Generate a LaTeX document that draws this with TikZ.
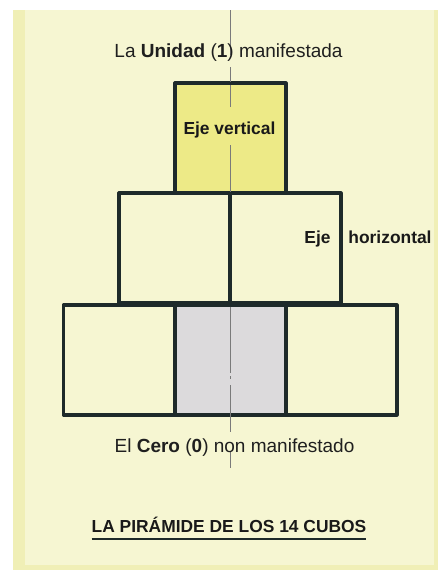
\documentclass[tikz,border=0pt]{standalone}
\usepackage{fontspec}
\setmainfont{Liberation Sans}
\definecolor{panel}{HTML}{F6F6D2}
\definecolor{franja}{HTML}{F0EFB6}
\definecolor{amarillo}{HTML}{EDEA87}
\definecolor{gris}{HTML}{DCDADC}
\definecolor{borde}{HTML}{1E2A2A}
\definecolor{ejegris}{HTML}{7A7A7A}
\tikzset{
  cubo/.style={draw=borde, line width=3.2pt, line join=round,
               minimum width=111pt, minimum height=110pt, inner sep=0pt},
  rotulo/.style={font=\fontsize{19}{22}\selectfont, text=black!88,
                 inner sep=0pt, anchor=base},
  etiqueta/.style={font=\fontsize{17.4}{20}\selectfont\bfseries, text=black!90,
                   inner sep=0pt, anchor=base},
  ejeline/.style={draw=ejegris, line width=1pt},
}

\begin{document}
\begin{tikzpicture}[x=1pt, y=-1pt]
  \useasboundingbox (0,0) rectangle (438,570);
  % panel
  \fill[white] (0,0) rectangle (438,570);
  \fill[franja] (13,10) rectangle (438,570);
  \fill[panel] (25,10) rectangle (434,565);
  % cubes
  \node[cubo, fill=amarillo] (uno) at (230.5,138) {};
  \node[cubo, fill=panel] (dosA) at (174.5,248) {};
  \node[cubo, fill=panel] (dosB) at (285.5,248) {};
  \node[cubo, fill=panel] (tresA) at (119,360) {};
  \node[cubo, fill=gris]  (tresB) at (230.5,360) {};
  \node[cubo, fill=panel] (tresC) at (341.5,360) {};
  % vertical axis
  \draw[ejeline] (230,10) -- (230,55);
  \draw[ejeline] (230,67) -- (230,81.5);
  \draw[ejeline] (230,84.5) -- (230,107);
  \draw[ejeline] (230,145) -- (230,191.5);
  \draw[ejeline] (230,306.5) -- (230,373);
  \draw[ejeline] (230,376) -- (230,379);
  \draw[ejeline] (230,385) -- (230,432);
  \draw[ejeline] (230,452) -- (230,468);
  % labels
  \node[rotulo] (unidad) at (228.5,57) {La \textbf{Unidad} (\textbf{1}) manifestada};
  \node[etiqueta] (vertical) at (229.5,134) {Eje vertical};
  \node[etiqueta] (ejeh) at (317.5,243) {Eje};
  \node[etiqueta] (horizontal) at (390,243) {horizontal};
  \node[rotulo] (cero) at (234.5,452) {El \textbf{Cero} (\textbf{0}) non manifestado};
  \node[etiqueta] (titulo) at (229,532) {LA PIRÁMIDE DE LOS 14 CUBOS};
  \draw[borde, line width=1.6pt] ([yshift=-7pt]titulo.base west) -- ([yshift=-7pt]titulo.base east);
\end{tikzpicture}
\end{document}
